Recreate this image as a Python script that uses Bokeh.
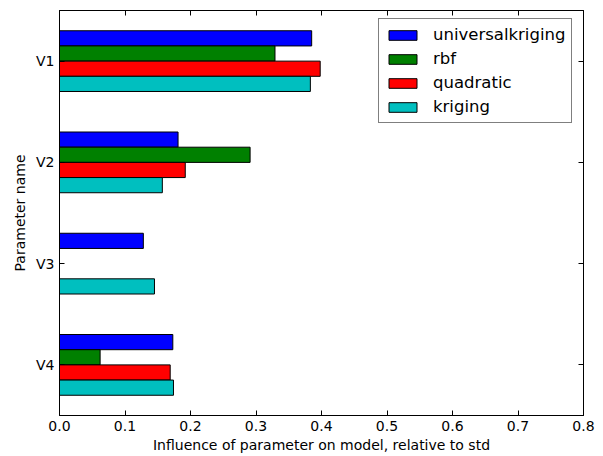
from bokeh.plotting import figure
from bokeh.models import (ColumnDataSource, FactorRange, Range1d, FixedTicker, Legend, LegendItem,
                          LinearAxis, CategoricalAxis, NumeralTickFormatter)
from bokeh.transform import dodge
from bokeh.embed import file_html
from bokeh.resources import INLINE

params = ["V1", "V2", "V3", "V4"]
universalkriging = [0.385, 0.181, 0.128, 0.173]
rbf = [0.329, 0.291, 0.0, 0.062]
quadratic = [0.398, 0.192, 0.0, 0.169]
kriging = [0.383, 0.157, 0.145, 0.174]
series_names = ["universalkriging", "rbf", "quadratic", "kriging"]
series_colors = ["#0000ff", "#008000", "#ff0000", "#00bfbf"]
x_ticks = [0.0, 0.1, 0.2, 0.3, 0.4, 0.5, 0.6, 0.7, 0.8]

FONT = "DejaVu Sans"

source = ColumnDataSource(dict(param=params, universalkriging=universalkriging, rbf=rbf,
                               quadratic=quadratic, kriging=kriging))

p = figure(y_range=FactorRange(factors=list(reversed(params))), x_range=Range1d(0, 0.8),
           frame_width=524, frame_height=405, width=603, height=456,
           min_border_left=59, min_border_right=20, min_border_top=10, min_border_bottom=41,
           output_backend="svg", toolbar_location=None)

bar_h = 0.15
offsets = [0.225, 0.075, -0.075, -0.225]
renderers = []
for name, col, off in zip(series_names, series_colors, offsets):
    r = p.hbar(y=dodge("param", off, range=p.y_range), right=name, left=0, height=bar_h,
               source=source, fill_color=col, line_color="black", line_width=1)
    renderers.append(r)

p.xgrid.visible = False
p.ygrid.visible = False
p.outline_line_color = "black"
p.outline_line_width = 1
p.background_fill_color = "white"
p.border_fill_color = "white"

xa = p.xaxis[0]
xa.ticker = FixedTicker(ticks=x_ticks)
xa.formatter = NumeralTickFormatter(format="0.0")
xa.axis_label = "Influence of parameter on model, relative to std"
ya = p.yaxis[0]
ya.axis_label = "Parameter name"

for ax in (xa, ya):
    ax.major_tick_in = 5
    ax.major_tick_out = 0
    ax.minor_tick_line_color = None
    ax.axis_line_color = "black"
    ax.major_tick_line_color = "black"
    ax.major_label_text_font = FONT
    ax.major_label_text_font_size = "14px"
    ax.major_label_text_color = "black"
    ax.axis_label_text_font = FONT
    ax.axis_label_text_font_size = "14px"
    ax.axis_label_text_font_style = "normal"
    ax.axis_label_text_color = "black"
    ax.major_label_standoff = 5
xa.axis_label_standoff = 3
ya.axis_label_standoff = 5

top_ax = LinearAxis(ticker=FixedTicker(ticks=x_ticks), major_tick_in=5, major_tick_out=0,
                    minor_tick_line_color=None, major_label_text_font_size="1px",
                    major_label_text_color=None,
                    major_label_standoff=0, axis_line_color="black")
p.add_layout(top_ax, "above")
right_ax = CategoricalAxis(major_tick_in=5, major_tick_out=0, minor_tick_line_color=None,
                           major_label_text_font_size="1px", major_label_text_color=None,
                           major_label_standoff=0, axis_line_color="black")
p.add_layout(right_ax, "right")

legend = Legend(items=[LegendItem(label=n, renderers=[r]) for n, r in zip(series_names, renderers)],
                location=(319, 292), orientation="vertical",
                label_text_font=FONT, label_text_font_size="16.5px", label_text_color="black",
                glyph_width=35, glyph_height=12, label_height=19, label_standoff=13,
                spacing=5, padding=6, margin=0,
                border_line_color="black", border_line_width=1,
                background_fill_color="white", background_fill_alpha=1)
p.add_layout(legend, "center")

open("out.html", "w").write(file_html(p, INLINE))
